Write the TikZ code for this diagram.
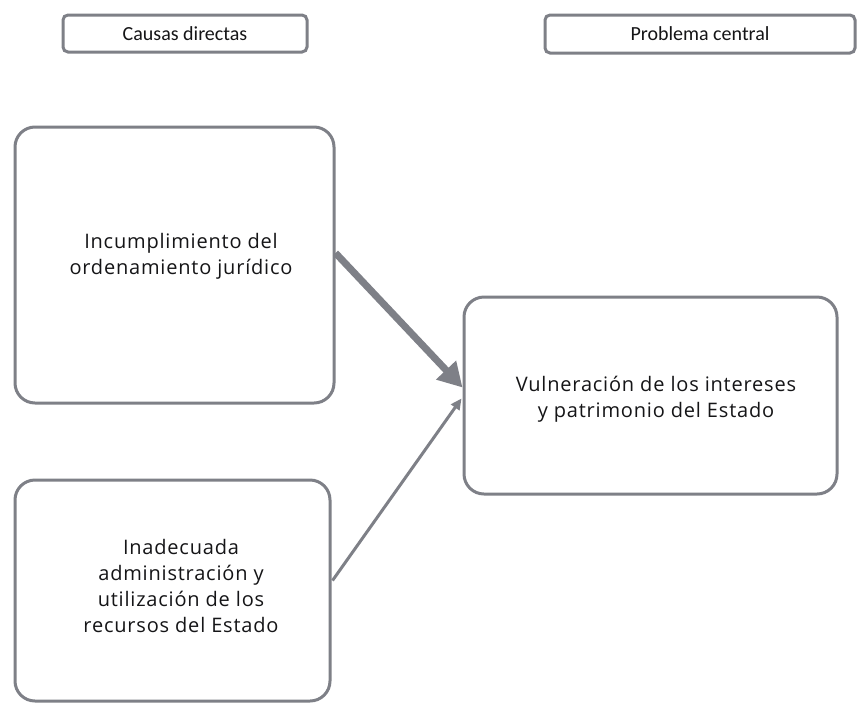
\documentclass[tikz,border=0pt]{standalone}
\usepackage{fontspec}
\setmainfont[LetterSpace=4]{Open Sans}
\newfontfamily\lblfont{Carlito}
\usetikzlibrary{arrows.meta,calc}
\definecolor{bordergray}{HTML}{7E8087}
\definecolor{txtcol}{HTML}{151517}
\begin{document}
\begin{tikzpicture}[x=1pt,y=-1pt,
  tagbox/.style={draw=bordergray,line width=3pt,rounded corners=5pt,inner sep=0pt,
    font=\lblfont\fontsize{20}{24}\selectfont,text=txtcol},
  bigbox/.style={draw=bordergray,line width=3pt,rounded corners=20pt,inner sep=0pt},
  boxtext/.style={align=center,inner sep=0pt,font=\fontsize{20}{26}\selectfont,text=txtcol},
  conn/.style={draw=bordergray,line cap=butt}
]
\useasboundingbox (0,0) rectangle (864,710);
\fill[white] (0,0) rectangle (864,710);

\node[tagbox,minimum width=244pt,minimum height=37pt] (cd) at (185,33.5) {Causas directas};
\node[tagbox,minimum width=310pt,minimum height=38pt] (pc) at (700,34) {Problema central};

\node[bigbox,minimum width=319pt,minimum height=276pt] (c1) at (174.5,265) {};
\node[boxtext] (t1) at (181,256) {Incumplimiento del\\ordenamiento jurídico};

\node[bigbox,minimum width=315pt,minimum height=221pt] (c2) at (172.5,590.5) {};
\node[boxtext] (t2) at (181,586) {Inadecuada\\administración y\\utilización de los\\recursos del Estado};

\node[bigbox,minimum width=373pt,minimum height=197pt] (p) at (650.5,395.5) {};
\node[boxtext] (t3) at (656,399) {Vulneración de los intereses\\y patrimonio del Estado};

\coordinate (a1) at ($(c1.east)+(0,-12)$);
\coordinate (b1) at ($(p.west)+(0,-8)$);
\draw[conn,line width=7pt,-{Triangle[width=26pt,length=24pt]}] (a1) -- (b1);

\coordinate (a2) at ($(c2.east)+(1,-10)$);
\coordinate (b2) at ($(p.west)+(-1,3)$);
\draw[conn,line width=3pt,-{Triangle[width=10pt,length=11pt]}] (a2) -- (b2);
\end{tikzpicture}
\end{document}
